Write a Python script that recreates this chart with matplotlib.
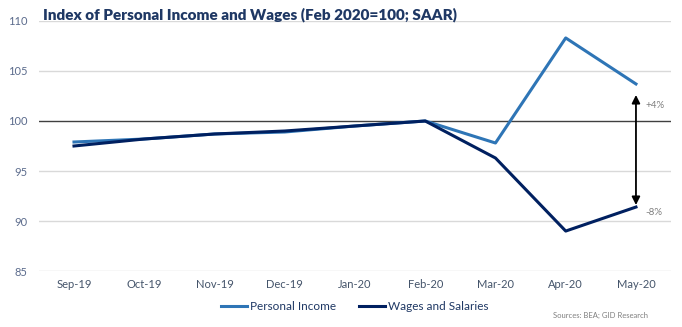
import matplotlib.pyplot as plt

months = ['Sep-19', 'Oct-19', 'Nov-19', 'Dec-19', 'Jan-20', 'Feb-20', 'Mar-20', 'Apr-20', 'May-20']
personal_income = [97.9, 98.2, 98.7, 98.9, 99.5, 100.0, 97.8, 108.3, 103.7]
wages_salaries = [97.5, 98.2, 98.7, 99.0, 99.5, 100.0, 96.3, 89.0, 91.4]
y_ticks = [85, 90, 95, 100, 105, 110]
arrow_range = [91.6, 102.6]
arrow_labels = ['+4%', '-8%']

plt.rcParams['font.family'] = ['Lato', 'DejaVu Sans']

fig = plt.figure(figsize=(6.82, 3.27), dpi=100)
ax = fig.add_axes([0.057, 0.171, 0.927, 0.765])

x = list(range(len(months)))

for t in y_ticks:
    if t == 100:
        ax.axhline(t, color='#404040', lw=1.0, zorder=1)
    else:
        ax.axhline(t, color='#d9d9d9', lw=1.0, zorder=1)

ax.plot(x, personal_income, color='#2e75b6', lw=2.2, label='Personal Income', zorder=3)
ax.plot(x, wages_salaries, color='#002060', lw=2.2, label='Wages and Salaries', zorder=3)

# double arrow showing the gap in May
last = x[-1]
ax.annotate('', xy=(last, arrow_range[1]), xytext=(last, arrow_range[0]),
            arrowprops=dict(arrowstyle='<|-|>', color='black', lw=1.3,
                            mutation_scale=12, shrinkA=0, shrinkB=0), zorder=4)
ax.text(last + 0.13, 101.5, arrow_labels[0], fontsize=7, color='#7f7f7f', va='center')
ax.text(last + 0.13, 90.9, arrow_labels[1], fontsize=7, color='#7f7f7f', va='center')

ax.set_xlim(-0.5, len(months) - 0.5)
ax.set_ylim(85, 110)
ax.set_yticks(y_ticks)
ax.set_xticks(x)
ax.set_xticklabels(months)
ax.tick_params(axis='both', length=0, labelsize=8)
ax.tick_params(axis='y', colors='#5b6b8c', pad=8)
ax.tick_params(axis='x', colors='#44546a', pad=6)
for s in ax.spines.values():
    s.set_visible(False)

fig.text(0.063, 0.955, 'Index of Personal Income and Wages (Feb 2020=100; SAAR)',
         fontsize=11, fontweight='heavy', color='#1f3864', va='center')

leg = fig.legend(loc='center', bbox_to_anchor=(0.52, 0.063), ncol=2, frameon=False,
                 fontsize=8.5, handlelength=2.2, handletextpad=0.2, columnspacing=2.0)
for t in leg.get_texts():
    t.set_color('#1f3864')

fig.text(0.95, 0.035, 'Sources: BEA; GID Research', fontsize=5.5, color='#7f7f7f',
         ha='right', va='center')

fig.savefig('out.png', dpi=100)
